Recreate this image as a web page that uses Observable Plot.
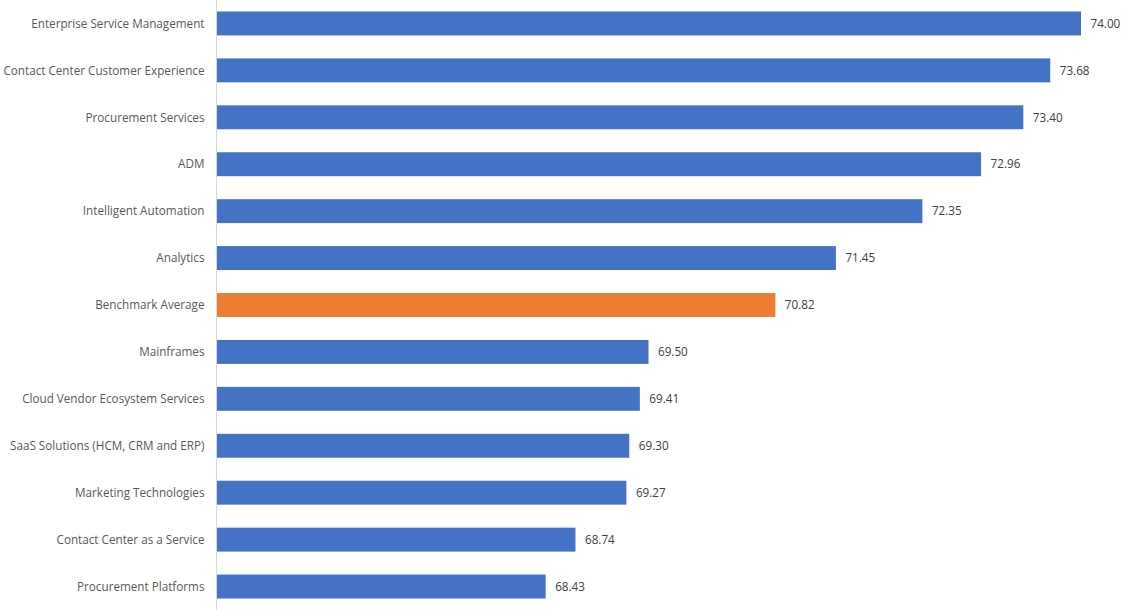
<!DOCTYPE html>
<html>
<head>
<meta charset="utf-8">
<script src="https://cdn.jsdelivr.net/npm/d3@7"></script>
<script src="https://cdn.jsdelivr.net/npm/@observablehq/plot@0.6"></script>
<style>
  html, body { margin: 0; padding: 0; background: #fff; }
  #chart { width: 1121px; height: 610px; }
</style>
</head>
<body>
<div id="chart"></div>
<script>
const categories = [
  "Enterprise Service Management",
  "Contact Center Customer Experience",
  "Procurement Services",
  "ADM",
  "Intelligent Automation",
  "Analytics",
  "Benchmark Average",
  "Mainframes",
  "Cloud Vendor Ecosystem Services",
  "SaaS Solutions (HCM, CRM and ERP)",
  "Marketing Technologies",
  "Contact Center as a Service",
  "Procurement Platforms"
];
const values = [74.00, 73.68, 73.40, 72.96, 72.35, 71.45, 70.82, 69.50, 69.41, 69.30, 69.27, 68.74, 68.43];
const highlighted = ["Benchmark Average"];

const data = categories.map((c, i) => ({ category: c, value: values[i], highlight: highlighted.includes(c) }));

const chart = Plot.plot({
  width: 1121,
  height: 610,
  marginLeft: 216,
  marginRight: 40,
  marginTop: 0,
  marginBottom: 0,
  style: { fontFamily: "'Open Sans', 'Noto Sans', sans-serif", fontSize: "11.7px", color: "#595959", background: "#fff" },
  x: { domain: [65, 74], axis: null },
  y: { domain: categories, paddingInner: 0.49, paddingOuter: 0.245, round: false, label: null },
  marks: [
    Plot.barX(data, {
      x1: 65, x2: "value", y: "category",
      fill: d => d.highlight ? "#ED7D31" : "#4472C4"
    }),
    Plot.ruleX([65], { stroke: "#d9d9d9", strokeWidth: 1 }),
    Plot.text(data, {
      x: "value", y: "category", text: d => d.value.toFixed(2),
      textAnchor: "start", dx: 9, fill: "#404040", fontSize: 11.7
    }),
    Plot.axisY({ tickSize: 0, tickPadding: 12, fill: "#595959", fontSize: 11.7, label: null })
  ]
});
document.getElementById("chart").appendChild(chart);
</script>
</body>
</html>
